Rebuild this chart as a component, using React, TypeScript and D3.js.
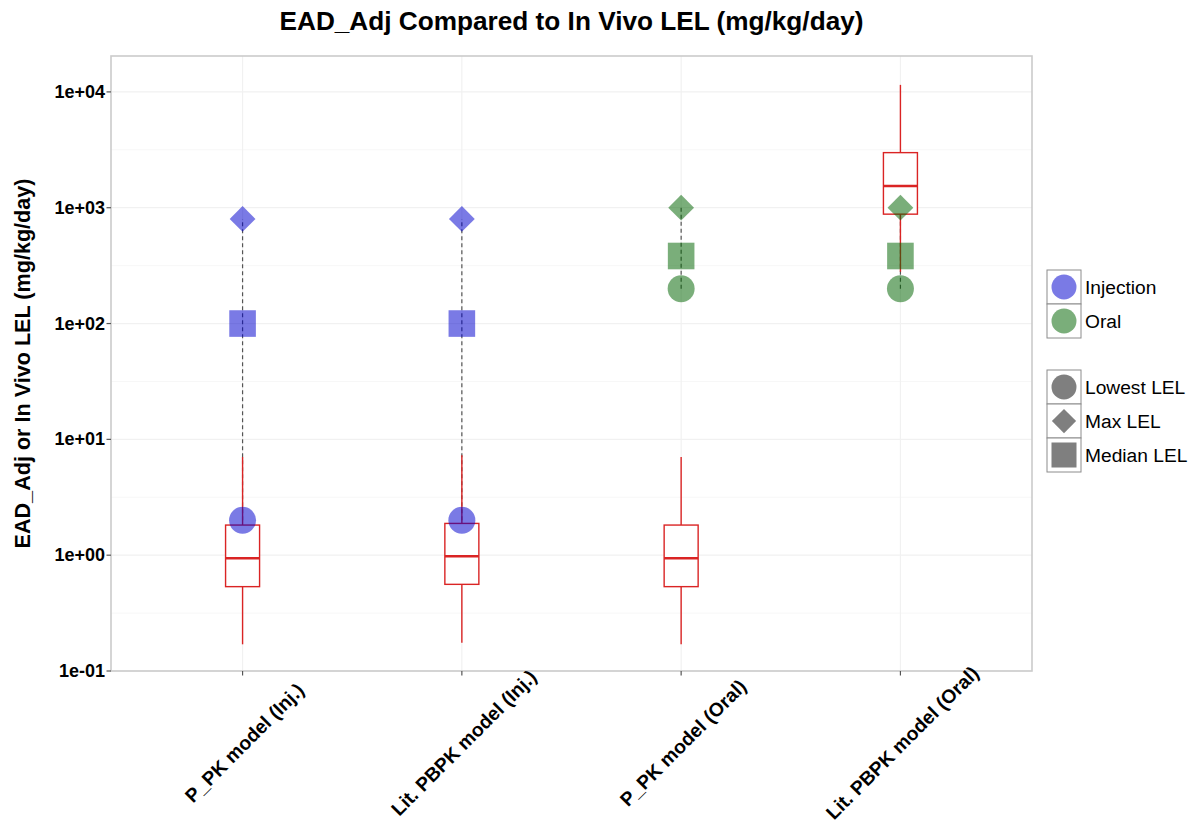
import React from "react";
import * as d3 from "d3";

const categories = [
  "P_PK model (Inj.)",
  "Lit. PBPK model (Inj.)",
  "P_PK model (Oral)",
  "Lit. PBPK model (Oral)",
];
const boxLow = [0.17, 0.175, 0.17, 280];
const boxQ1 = [0.535, 0.56, 0.535, 880];
const boxMedian = [0.94, 0.98, 0.94, 1540];
const boxQ3 = [1.82, 1.88, 1.82, 2990];
const boxHigh = [7.05, 7.3, 7.05, 11500];
const route = ["Injection", "Injection", "Oral", "Oral"];
const lowestLEL = [2, 2, 200, 200];
const maxLEL = [800, 800, 1000, 1000];
const medianLEL = [100, 100, 383, 383];
const yTicks = [0.1, 1, 10, 100, 1000, 10000];
const yMinor = [0.1, 1, 10, 100, 1000].map((v) => v * Math.sqrt(10));
const routeNames = ["Injection", "Oral"];
const shapeNames = ["Lowest LEL", "Max LEL", "Median LEL"];

const W = 1196;
const H = 823;
const panel = { left: 111, right: 1032, top: 56, bottom: 671 };
const routeColor: Record<string, string> = { Injection: "#0000CD", Oral: "#006400" };
const ALPHA = 0.52;
const RED = "#DA2424";
const FONT = "Liberation Sans, Arial, Helvetica, sans-serif";

const fmt = (v: number) => {
  const e = Math.round(Math.log10(v));
  const s = e < 0 ? "-" : "+";
  return `1e${s}${String(Math.abs(e)).padStart(2, "0")}`;
};

function Shape({ kind, x, y, fill, opacity, s }: { kind: string; x: number; y: number; fill: string; opacity: number; s: number }) {
  if (kind === "Lowest LEL") return <circle cx={x} cy={y} r={s} fill={fill} fillOpacity={opacity} />;
  if (kind === "Median LEL")
    return <rect x={x - s} y={y - s} width={2 * s} height={2 * s} fill={fill} fillOpacity={opacity} />;
  const d = s * 0.97;
  return (
    <path
      d={`M${x},${y - d}L${x + d},${y}L${x},${y + d}L${x - d},${y}Z`}
      fill={fill}
      fillOpacity={opacity}
    />
  );
}

export default function App() {
  const x = d3.scalePoint<string>().domain(categories).range([panel.left, panel.right]).padding(0.6);
  const y = d3.scaleLog().domain([0.1, Math.pow(10, 4.31)]).range([panel.bottom, panel.top]);
  const boxHalf = 17;

  return (
    <svg width={W} height={H} style={{ position: "absolute", left: 0, top: 0, background: "#fff" }} fontFamily={FONT}>
      <rect x={0} y={0} width={W} height={H} fill="#fff" />
      {/* title */}
      <text x={(panel.left + panel.right) / 2} y={30} textAnchor="middle" fontSize={26.2} fontWeight="bold" fill="#000">
        EAD_Adj Compared to In Vivo LEL (mg/kg/day)
      </text>
      {/* grid */}
      <g>
        {yMinor.map((v, i) => (
          <line key={"mn" + i} x1={panel.left} x2={panel.right} y1={y(v)} y2={y(v)} stroke="#F7F7F7" strokeWidth={1} />
        ))}
        {yTicks.map((v, i) => (
          <line key={"mj" + i} x1={panel.left} x2={panel.right} y1={y(v)} y2={y(v)} stroke="#F1F1F1" strokeWidth={1.2} />
        ))}
        {categories.map((c) => (
          <line key={"vx" + c} x1={x(c)} x2={x(c)} y1={panel.top} y2={panel.bottom} stroke="#F1F1F1" strokeWidth={1.2} />
        ))}
      </g>
      {/* dashed range lines */}
      {categories.map((c, i) => (
        <line
          key={"dl" + i}
          x1={x(c)}
          x2={x(c)}
          y1={y(lowestLEL[i])}
          y2={y(maxLEL[i])}
          stroke="#555"
          strokeWidth={1.2}
          strokeDasharray="4,3"
        />
      ))}
      {/* boxplots */}
      {categories.map((c, i) => {
        const cx = x(c) as number;
        return (
          <g key={"bx" + i} stroke={RED} fill="none">
            <line x1={cx} x2={cx} y1={y(boxQ3[i])} y2={y(boxHigh[i])} strokeWidth={1.4} />
            <line x1={cx} x2={cx} y1={y(boxQ1[i])} y2={y(boxLow[i])} strokeWidth={1.4} />
            <rect
              x={cx - boxHalf}
              y={y(boxQ3[i])}
              width={2 * boxHalf}
              height={y(boxQ1[i]) - y(boxQ3[i])}
              fill="#fff"
              strokeWidth={1.4}
            />
            <line x1={cx - boxHalf} x2={cx + boxHalf} y1={y(boxMedian[i])} y2={y(boxMedian[i])} strokeWidth={2.6} />
          </g>
        );
      })}
      {/* points */}
      {categories.map((c, i) => {
        const cx = x(c) as number;
        const col = routeColor[route[i]];
        return (
          <g key={"pt" + i}>
            <Shape kind="Max LEL" x={cx} y={y(maxLEL[i])} fill={col} opacity={ALPHA} s={13.3} />
            <Shape kind="Median LEL" x={cx} y={y(medianLEL[i])} fill={col} opacity={ALPHA} s={13.3} />
            <Shape kind="Lowest LEL" x={cx} y={y(lowestLEL[i])} fill={col} opacity={ALPHA} s={13.5} />
          </g>
        );
      })}
      {/* panel border */}
      <rect
        x={panel.left}
        y={panel.top}
        width={panel.right - panel.left}
        height={panel.bottom - panel.top}
        fill="none"
        stroke="#CBCBCB"
        strokeWidth={1.6}
      />
      {/* y axis */}
      <g>
        {yTicks.map((v, i) => (
          <g key={"yt" + i}>
            <line x1={panel.left - 4.5} x2={panel.left} y1={y(v)} y2={y(v)} stroke="#555" strokeWidth={1.2} />
            <text
              x={panel.left - 6}
              y={y(v)}
              textAnchor="end"
              dominantBaseline="central"
              fontSize={18}
              fontWeight="bold"
              fill="#000"
            >
              {fmt(v)}
            </text>
          </g>
        ))}
        <text
          transform={`translate(22,${(panel.top + panel.bottom) / 2}) rotate(-90)`}
          textAnchor="middle"
          dominantBaseline="central"
          fontSize={21.6}
          fontWeight="bold"
          fill="#000"
        >
          EAD_Adj or In Vivo LEL (mg/kg/day)
        </text>
      </g>
      {/* x axis */}
      <g>
        {categories.map((c, i) => (
          <g key={"xt" + i}>
            <line x1={x(c)} x2={x(c)} y1={panel.bottom} y2={panel.bottom + 4.5} stroke="#555" strokeWidth={1.2} />
            <text
              transform={`translate(${(x(c) as number) + 2},743) rotate(-45)`}
              textAnchor="middle"
              dominantBaseline="central"
              fontSize={19.3}
              fontWeight="bold"
              fill="#000"
            >
              {c}
            </text>
          </g>
        ))}
      </g>
      {/* legends */}
      <g>
        {routeNames.map((r, i) => {
          const ky = 270 + i * 34;
          return (
            <g key={"lr" + r}>
              <rect x={1047} y={ky} width={34} height={34} fill="#fff" stroke="#8C8C8C" strokeWidth={1} />
              <circle cx={1064} cy={ky + 17} r={12.5} fill={routeColor[r]} fillOpacity={ALPHA} />
              <text x={1085} y={ky + 17} dominantBaseline="central" fontSize={19.2} fill="#000">
                {r}
              </text>
            </g>
          );
        })}
        {shapeNames.map((s, i) => {
          const ky = 370 + i * 34;
          return (
            <g key={"ls" + s}>
              <rect x={1047} y={ky} width={34} height={34} fill="#fff" stroke="#8C8C8C" strokeWidth={1} />
              <Shape kind={s} x={1064} y={ky + 17} fill="#7F7F7F" opacity={1} s={12.5} />
              <text x={1085} y={ky + 17} dominantBaseline="central" fontSize={19.2} fill="#000">
                {s}
              </text>
            </g>
          );
        })}
      </g>
    </svg>
  );
}
